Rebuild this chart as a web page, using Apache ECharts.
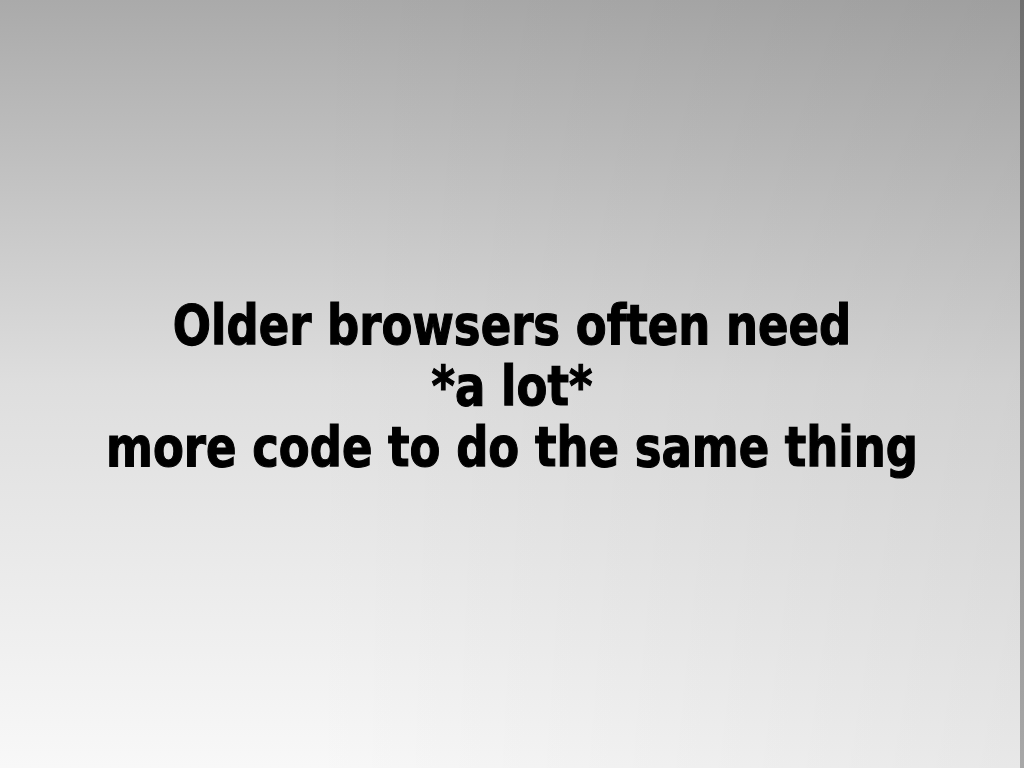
<!DOCTYPE html>
<html>
<head>
<meta charset="utf-8">
<script src="https://cdn.jsdelivr.net/npm/echarts@6/dist/echarts.min.js"></script>
<style>
  html, body { margin: 0; padding: 0; }
  #slide { width: 1024px; height: 768px; }
</style>
</head>
<body>
<div id="slide"></div>
<script>
var lines = ['Older browsers often need', '*a lot*', 'more code to do the same thing'];
var lineTops = [302, 363, 424];

var chart = echarts.init(document.getElementById('slide'));

// Tahoma is not here: DejaVu Sans Bold squeezed horizontally comes close
var font = 'bold 55px "DejaVu Sans"';
var ctx = document.createElement('canvas').getContext('2d');
ctx.font = font;
var sx = 812 / ctx.measureText(lines[2]).width;

var texts = lines.map(function (t, i) {
  return {
    type: 'text',
    x: 512,
    y: lineTops[i],
    scaleX: sx,
    style: {
      text: t,
      font: font,
      fill: '#000',
      stroke: '#000',
      lineWidth: 1.2,
      align: 'center',
      verticalAlign: 'top'
    },
    z: 10
  };
});

chart.setOption({
  backgroundColor: '#f4f4f4',
  graphic: [
    {
      type: 'rect',
      shape: { x: 0, y: 0, width: 1024, height: 768 },
      style: {
        fill: new echarts.graphic.LinearGradient(0, 0, 0, 1, [
          { offset: 0, color: '#aaaaaa' },
          { offset: 0.5, color: '#dedede' },
          { offset: 1, color: '#f8f8f8' }
        ])
      },
      z: 0
    },
    {
      type: 'rect',
      shape: { x: 0, y: 0, width: 1024, height: 768 },
      style: {
        fill: new echarts.graphic.LinearGradient(0, 0, 1, 0, [
          { offset: 0, color: 'rgba(0,0,0,0)' },
          { offset: 0.3, color: 'rgba(0,0,0,0)' },
          { offset: 1, color: 'rgba(0,0,0,0.065)' }
        ])
      },
      z: 1
    },
    {
      type: 'rect',
      shape: { x: 1020, y: 0, width: 4, height: 768 },
      style: {
        fill: new echarts.graphic.LinearGradient(0, 0, 0, 1, [
          { offset: 0, color: '#6e6e6e' },
          { offset: 1, color: '#a8a8a8' }
        ])
      },
      z: 2
    }
  ].concat(texts)
});
</script>
</body>
</html>
